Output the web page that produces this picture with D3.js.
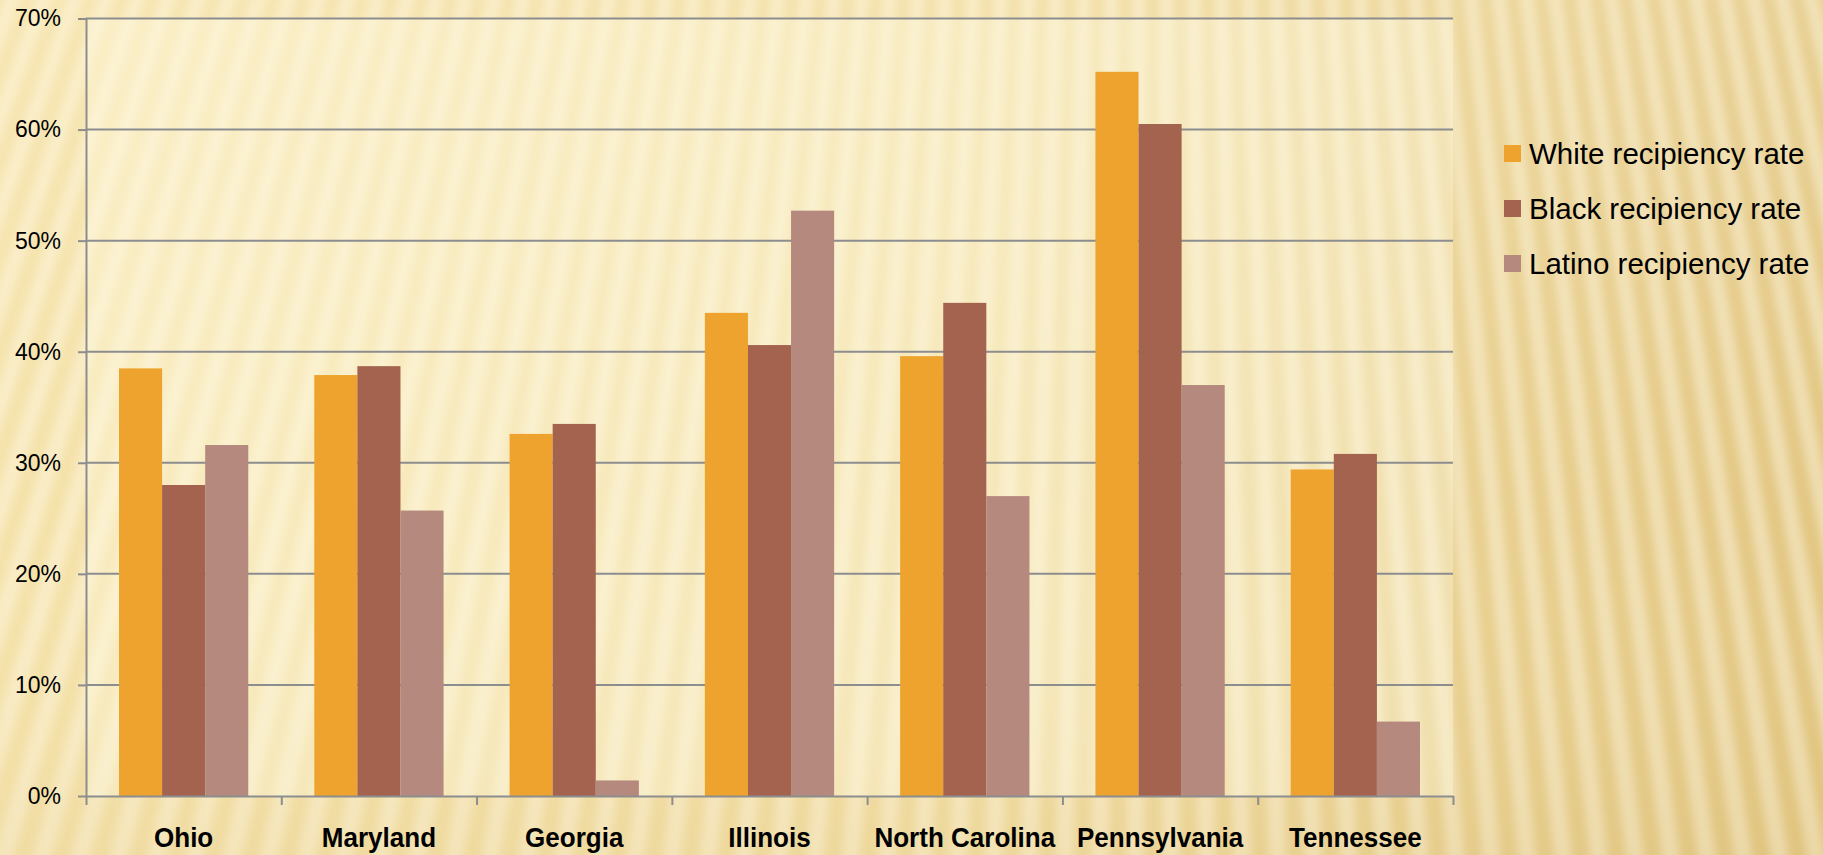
<!DOCTYPE html>
<html>
<head>
<meta charset="utf-8">
<script src="https://cdn.jsdelivr.net/npm/d3@7"></script>
<style>
  html, body { margin: 0; padding: 0; overflow: hidden; }
  svg { display: block; }
</style>
</head>
<body>
<div id="chart"></div>
<script>
// values (percent)
const states = ["Ohio", "Maryland", "Georgia", "Illinois", "North Carolina", "Pennsylvania", "Tennessee"];
const whiteRate = [38.5, 37.9, 32.6, 43.5, 39.6, 65.2, 29.4];
const blackRate = [28.0, 38.7, 33.5, 40.6, 44.4, 60.5, 30.8];
const latinoRate = [31.6, 25.7, 1.4, 52.7, 27.0, 37.0, 6.7];
const seriesNames = ["White recipiency rate", "Black recipiency rate", "Latino recipiency rate"];
const seriesColors = ["#eea32e", "#a3634e", "#b5897e"];
const yTicks = [0, 10, 20, 30, 40, 50, 60, 70];

function draw() {
  const width = 1823;
  const height = 855;
  const left = 86, right = 1453, top = 18.5, bottom = 796;

  const svg = d3.select("#chart").append("svg")
    .attr("width", width)
    .attr("height", height);

  const defs = svg.append("defs");

  // slide background: golden gradient with soft light rays
  const bg = defs.append("linearGradient").attr("id", "bg")
    .attr("x1", "0").attr("y1", "0").attr("x2", "1").attr("y2", "0");
  bg.append("stop").attr("offset", "0").attr("stop-color", "#f5e2aa");
  bg.append("stop").attr("offset", "0.55").attr("stop-color", "#f1dca1");
  bg.append("stop").attr("offset", "1").attr("stop-color", "#e2c682");

  const shade = defs.append("linearGradient").attr("id", "shade")
    .attr("x1", "0").attr("y1", "0").attr("x2", "0").attr("y2", "1");
  shade.append("stop").attr("offset", "0").attr("stop-color", "#fff6d8").attr("stop-opacity", 0.2);
  shade.append("stop").attr("offset", "0.6").attr("stop-color", "#fff6d8").attr("stop-opacity", 0);
  shade.append("stop").attr("offset", "1").attr("stop-color", "#c9a85a").attr("stop-opacity", 0.1);

  defs.append("filter").attr("id", "soft")
    .attr("x", "-10%").attr("y", "-10%").attr("width", "120%").attr("height", "120%")
    .append("feGaussianBlur").attr("stdDeviation", 4);

  svg.append("rect").attr("width", width).attr("height", height).attr("fill", "url(#bg)");

  // rays from a point far above the slide
  const cx = 1150, cy = -3000, far = 4300;
  const rays = d3.range(-0.42, 0.26, 0.0092);
  svg.append("g")
    .attr("filter", "url(#soft)")
    .selectAll("path")
    .data(rays)
    .join("path")
      .attr("fill", "#fffbe8")
      .attr("fill-opacity", 0.45)
      .attr("d", a => {
        const a2 = a + 0.0045;
        const p = t => [cx + Math.sin(t) * far, cy + Math.cos(t) * far];
        const [x1, y1] = p(a), [x2, y2] = p(a2);
        return `M${cx},${cy}L${x1},${y1}L${x2},${y2}Z`;
      });

  svg.append("rect").attr("width", width).attr("height", height).attr("fill", "url(#shade)");

  // plot area, slightly lighter
  svg.append("rect")
    .attr("x", left).attr("y", top)
    .attr("width", right - left).attr("height", bottom - top)
    .attr("fill", "#fffbe6").attr("fill-opacity", 0.35);

  const x = d3.scaleBand()
    .domain(states)
    .range([left, right])
    .paddingInner(0.338)
    .paddingOuter(0.169);

  const xSub = d3.scaleBand()
    .domain(seriesNames)
    .range([0, x.bandwidth()]);

  const y = d3.scaleLinear()
    .domain([0, 70])
    .range([bottom, top]);

  // gridlines
  svg.append("g")
    .selectAll("line")
    .data(yTicks.slice(1))
    .join("line")
      .attr("x1", left).attr("x2", right)
      .attr("y1", d => y(d)).attr("y2", d => y(d))
      .attr("stroke", "#8b8d8f")
      .attr("stroke-width", 2);

  // bars
  const rows = states.map((s, i) => ({ state: s, values: [whiteRate[i], blackRate[i], latinoRate[i]] }));
  svg.append("g")
    .selectAll("g")
    .data(rows)
    .join("g")
      .attr("transform", d => `translate(${x(d.state)},0)`)
    .selectAll("rect")
    .data(d => d.values.map((v, j) => ({ key: seriesNames[j], value: v, color: seriesColors[j] })))
    .join("rect")
      .attr("x", d => xSub(d.key))
      .attr("width", xSub.bandwidth())
      .attr("y", d => y(d.value))
      .attr("height", d => y(0) - y(d.value))
      .attr("fill", d => d.color);

  // y axis
  const yAxis = svg.append("g")
    .attr("transform", `translate(${left},0)`)
    .call(d3.axisLeft(y).tickValues(yTicks).tickSize(8).tickSizeOuter(0).tickPadding(17)
      .tickFormat(d => d + "%"));
  yAxis.select(".domain").attr("stroke", "#8b8d8f").attr("stroke-width", 2);
  yAxis.selectAll(".tick line").attr("stroke", "#8b8d8f").attr("stroke-width", 2);
  yAxis.selectAll(".tick text")
    .attr("fill", "#000")
    .style("font-family", "'Liberation Sans', Arial, sans-serif")
    .style("font-size", "23px");

  // x axis: baseline with ticks at category boundaries
  const edges = d3.scaleLinear().domain([0, states.length]).range([left, right]);
  const xAxis = svg.append("g")
    .attr("transform", `translate(0,${bottom})`)
    .call(d3.axisBottom(edges).ticks(states.length).tickSize(9).tickSizeOuter(0).tickFormat(""));
  xAxis.select(".domain").attr("stroke", "#8b8d8f").attr("stroke-width", 2);
  xAxis.selectAll(".tick line").attr("stroke", "#8b8d8f").attr("stroke-width", 2);

  // category labels, condensed bold
  svg.append("g")
    .selectAll("text")
    .data(states)
    .join("text")
      .attr("transform", d => `translate(${x(d) + x.bandwidth() / 2},847) scale(0.93,1)`)
      .attr("text-anchor", "middle")
      .style("font-family", "'Liberation Sans', Arial, sans-serif")
      .style("font-weight", "bold")
      .style("font-size", "28px")
      .attr("fill", "#000")
      .text(d => d);

  // legend
  const legend = svg.append("g")
    .selectAll("g")
    .data(seriesNames)
    .join("g")
      .attr("transform", (d, i) => `translate(1504,${145 + i * 55})`);
  legend.append("rect")
    .attr("width", 17).attr("height", 17)
    .attr("fill", (d, i) => seriesColors[i]);
  legend.append("text")
    .attr("x", 25)
    .attr("y", 19)
    .style("font-family", "'Liberation Sans', Arial, sans-serif")
    .style("font-size", "29.5px")
    .attr("fill", "#000")
    .text(d => d);
}
draw();
</script>
</body>
</html>
